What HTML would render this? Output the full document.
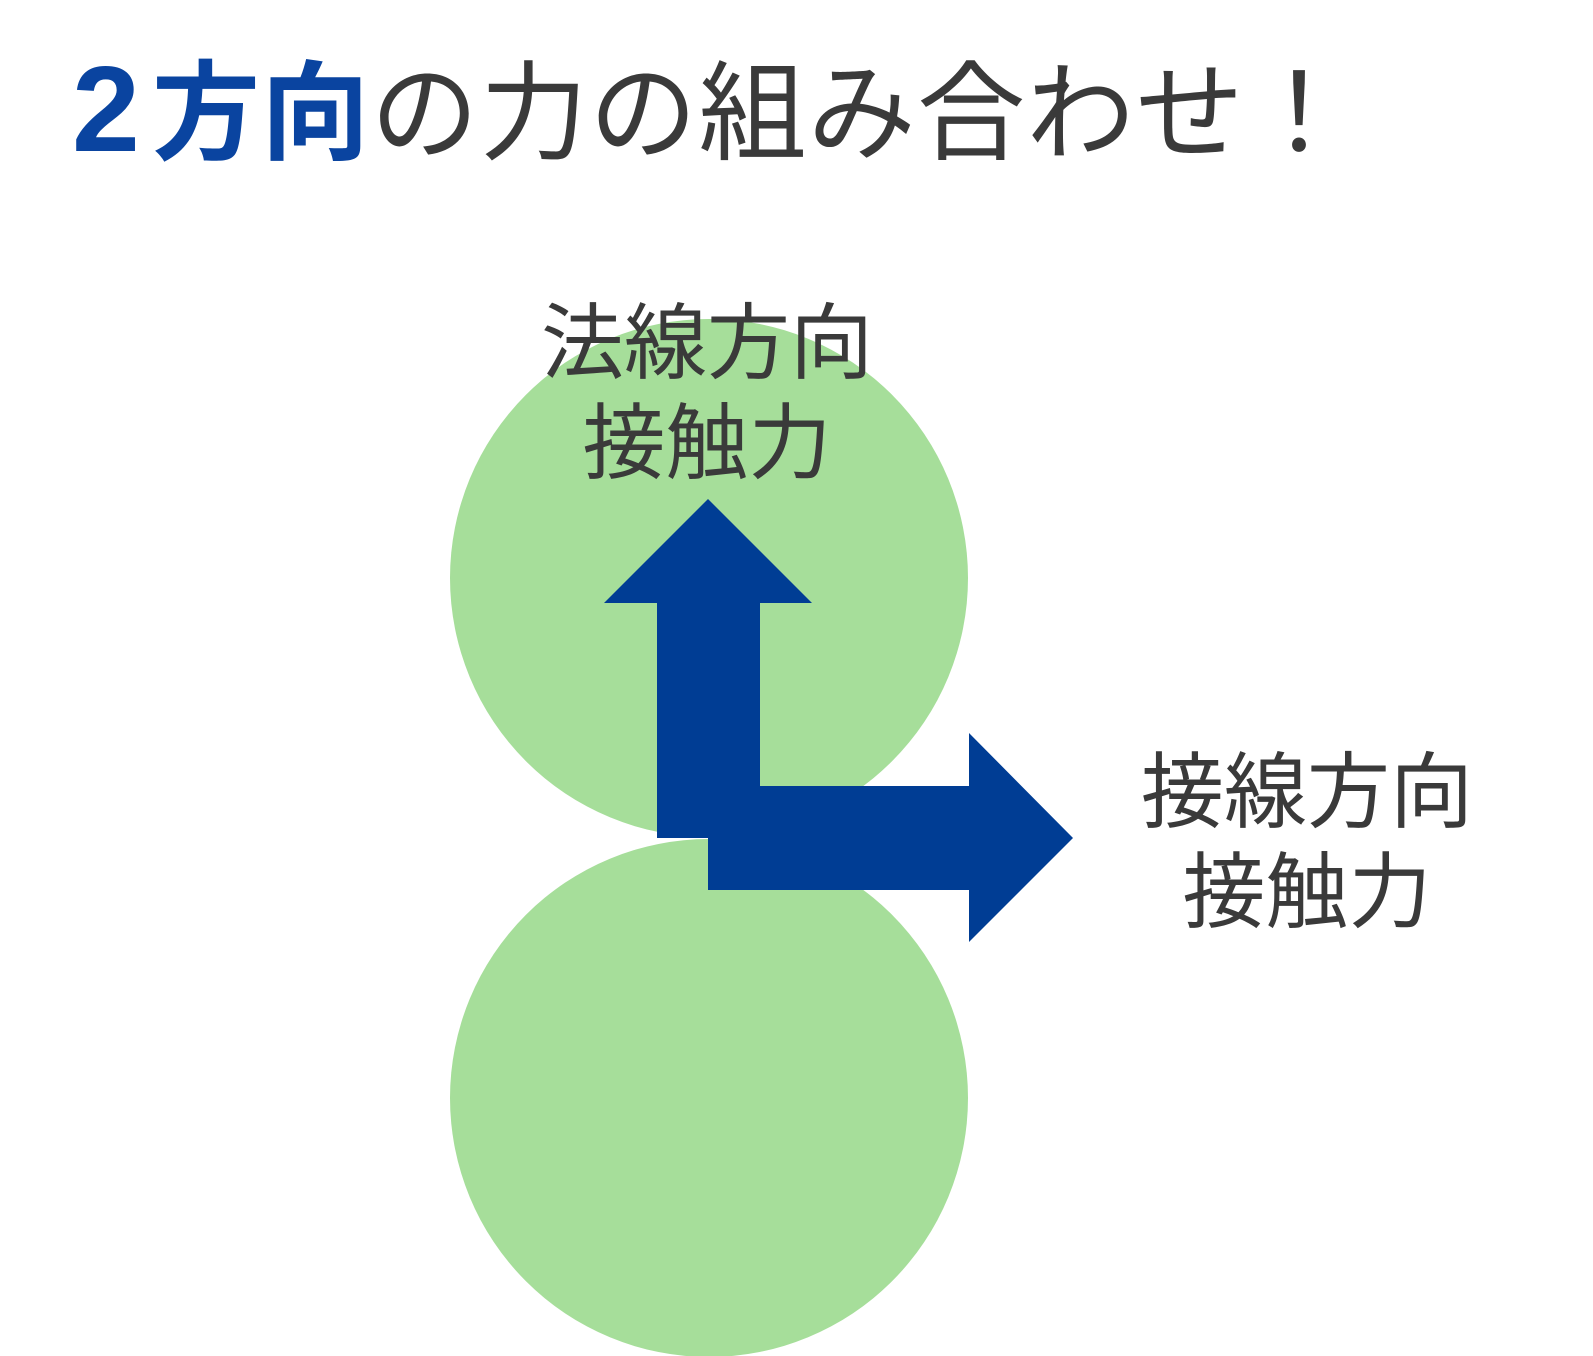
<!DOCTYPE html>
<html><head><meta charset="utf-8"><style>
html,body{margin:0;padding:0;background:#fff;width:1593px;height:1356px;overflow:hidden;position:relative}
.t{position:absolute;font-family:"Liberation Sans","Noto Sans CJK JP",sans-serif;color:#3a3a3a;white-space:nowrap}
</style></head><body>
<svg width="1593" height="1356" style="position:absolute;left:0;top:0">
<circle cx="709" cy="578" r="259" fill="#a6de9a"/>
<circle cx="709" cy="1098" r="259" fill="#a6de9a"/>
<polygon fill="#003d94" points="708,499 812,603 760,603 760,786 969,786 969,733 1073,838 969,942 969,890 708,890 708,838 657,838 657,603 604,603"/>
</svg>
<div class="t" style="left:72px;top:38px;font-size:108px;line-height:134px;letter-spacing:1.3px;font-family:'Noto Sans CJK JP',sans-serif"><span style="color:#0a44a0;font-weight:bold"><span style="display:inline-block;width:80px;font-family:'Liberation Sans',sans-serif;font-size:122px;letter-spacing:0">2</span>方向</span>の力の組み合わせ！</div>
<div class="t" style="left:537px;top:294px;width:340px;text-align:center;font-size:83px;line-height:100px">法線方向<br>接触力</div>
<div class="t" style="left:1137px;top:743px;width:340px;text-align:center;font-size:83px;line-height:100px">接線方向<br>接触力</div>
</body></html>
